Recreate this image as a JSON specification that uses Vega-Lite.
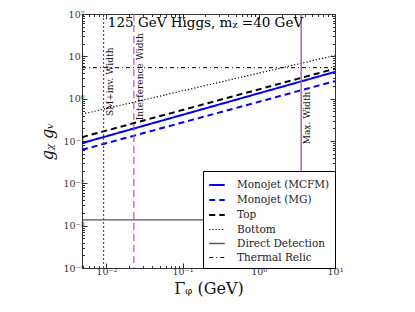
{
  "$schema": "https://vega.github.io/schema/vega-lite/v6.json",
  "width": 253,
  "height": 254,
  "autosize": "none",
  "padding": {"left": 82, "top": 14, "right": 80, "bottom": 44},
  "background": "white",
  "config": {
    "view": {"stroke": "#333", "strokeWidth": 1},
    "font": "DejaVu Serif",
    "axis": {"grid": false, "domain": false},
    "legend": {
      "labelFont": "DejaVu Serif",
      "labelFontSize": 10.5,
      "labelColor": "#222",
      "symbolStrokeWidth": 1.8
    }
  },
  "datasets": {
    "curves": [
      {"series": "Monojet (MCFM)", "width": 0.0048, "g": 0.089},
      {"series": "Monojet (MCFM)", "width": 10, "g": 4.3},
      {"series": "Monojet (MG)", "width": 0.0048, "g": 0.062},
      {"series": "Monojet (MG)", "width": 10, "g": 2.6},
      {"series": "Top", "width": 0.0048, "g": 0.123},
      {"series": "Top", "width": 10, "g": 5.1},
      {"series": "Bottom", "width": 0.0048, "g": 0.43},
      {"series": "Bottom", "width": 10, "g": 10.5},
      {"series": "Direct Detection", "width": 0.0048, "g": 0.00137},
      {"series": "Direct Detection", "width": 10, "g": 0.00137},
      {"series": "Thermal Relic", "width": 0.0048, "g": 5.4},
      {"series": "Thermal Relic", "width": 10, "g": 5.4}
    ],
    "vlines": [
      {"name": "SM+inv. Width", "width": 0.0092, "ytext": 2.5},
      {"name": "Interference Width", "width": 0.023, "ytext": 3.3},
      {"name": "Max. Width", "width": 3.6, "ytext": 0.35}
    ],
    "title": [
      {"width": 0.2, "g": 60, "text": "125 GeV Higgs, mᵪ =40 GeV"}
    ]
  },
  "resolve": {"axis": {"x": "independent", "y": "independent"}},
  "layer": [
    {
      "data": {"name": "curves"},
      "mark": {"type": "line", "clip": true},
      "encoding": {
        "x": {
          "field": "width", "type": "quantitative",
          "scale": {"type": "log", "domain": [0.0048, 10], "nice": false},
          "title": "Γᵩ  (GeV)",
          "axis": {
            "orient": "bottom",
            "values": [0.005,0.006,0.007,0.008,0.009,0.01,0.02,0.03,0.04,0.05,0.06,0.07,0.08,0.09,0.1,0.2,0.3,0.4,0.5,0.6,0.7,0.8,0.9,1,2,3,4,5,6,7,8,9,10],
            "labelExpr": "abs(log(datum.value)/LN10 - round(log(datum.value)/LN10)) < 0.001 ? '10' + (round(log(datum.value)/LN10) < 0 ? '⁻' : '') + ['⁰','¹','²','³','⁴','⁵'][abs(round(log(datum.value)/LN10))] : ''",
            "tickSize": {"condition": {"test": "abs(log(datum.value)/LN10 - round(log(datum.value)/LN10)) < 0.001", "value": -5}, "value": -2.5},
            "tickColor": "#333",
            "labelFont": "DejaVu Serif",
            "labelFontSize": 9.5,
            "labelColor": "#333",
            "labelPadding": 3,
            "labelFlush": false,
            "labelOverlap": false,
            "titleFont": "DejaVu Serif",
            "titleFontSize": 16,
            "titleFontWeight": "normal",
            "titleColor": "#111",
            "titlePadding": 2
          }
        },
        "y": {
          "field": "g", "type": "quantitative",
          "scale": {"type": "log", "domain": [0.0001, 100], "nice": false},
          "title": "gᵪ gᵥ",
          "axis": {
            "orient": "left",
            "values": [0.0001,0.0002,0.0003,0.0004,0.0005,0.0006,0.0007,0.0008,0.0009,0.001,0.002,0.003,0.004,0.005,0.006,0.007,0.008,0.009,0.01,0.02,0.03,0.04,0.05,0.06,0.07,0.08,0.09,0.1,0.2,0.3,0.4,0.5,0.6,0.7,0.8,0.9,1,2,3,4,5,6,7,8,9,10,20,30,40,50,60,70,80,90,100],
            "labelExpr": "abs(log(datum.value)/LN10 - round(log(datum.value)/LN10)) < 0.001 ? '10' + (round(log(datum.value)/LN10) < 0 ? '⁻' : '') + ['⁰','¹','²','³','⁴','⁵'][abs(round(log(datum.value)/LN10))] : ''",
            "tickSize": {"condition": {"test": "abs(log(datum.value)/LN10 - round(log(datum.value)/LN10)) < 0.001", "value": -5}, "value": -2.5},
            "tickColor": "#333",
            "labelFont": "DejaVu Serif",
            "labelFontSize": 9.5,
            "labelColor": "#333",
            "labelPadding": 3,
            "labelFlush": false,
            "labelOverlap": false,
            "titleFont": "DejaVu Serif",
            "titleFontSize": 16,
            "titleFontStyle": "italic",
            "titleFontWeight": "normal",
            "titleColor": "#111",
            "titlePadding": 8
          }
        },
        "color": {
          "field": "series", "type": "nominal",
          "scale": {
            "domain": ["Monojet (MCFM)", "Monojet (MG)", "Top", "Bottom", "Direct Detection", "Thermal Relic"],
            "range": ["#0000ff", "#0000ff", "#000000", "#000000", "#555555", "#000000"]
          },
          "legend": {
            "title": null,
            "orient": "none",
            "legendX": 121,
            "legendY": 157,
            "symbolType": "stroke",
            "symbolSize": 240,
            "labelFont": "DejaVu Serif",
            "labelFontSize": 10.5,
            "labelOffset": 11,
            "strokeColor": "#000",
            "fillColor": "white",
            "padding": 5,
            "rowPadding": 0
          }
        },
        "strokeDash": {
          "field": "series", "type": "nominal",
          "scale": {
            "domain": ["Monojet (MCFM)", "Monojet (MG)", "Top", "Bottom", "Direct Detection", "Thermal Relic"],
            "range": [[1, 0], [6, 4], [6, 4], [1.2, 2], [1, 0], [4, 3, 1, 3]]
          }
        },
        "strokeWidth": {
          "field": "series", "type": "nominal",
          "scale": {
            "type": "ordinal",
            "domain": ["Monojet (MCFM)", "Monojet (MG)", "Top", "Bottom", "Direct Detection", "Thermal Relic"],
            "range": [2, 2, 2, 1.2, 1.3, 1]
          }
        }
      }
    },
    {
      "data": {"name": "curves"},
      "mark": {"type": "point", "opacity": 0},
      "encoding": {
        "x": {
          "field": "width", "type": "quantitative",
          "axis": {
            "orient": "top",
            "values": [0.005,0.006,0.007,0.008,0.009,0.01,0.02,0.03,0.04,0.05,0.06,0.07,0.08,0.09,0.1,0.2,0.3,0.4,0.5,0.6,0.7,0.8,0.9,1,2,3,4,5,6,7,8,9,10],
            "labels": false,
            "title": null,
            "tickSize": {"condition": {"test": "abs(log(datum.value)/LN10 - round(log(datum.value)/LN10)) < 0.001", "value": -5}, "value": -2.5},
            "tickColor": "#333"
          }
        },
        "y": {
          "field": "g", "type": "quantitative",
          "axis": {
            "orient": "right",
            "values": [0.0001,0.0002,0.0003,0.0004,0.0005,0.0006,0.0007,0.0008,0.0009,0.001,0.002,0.003,0.004,0.005,0.006,0.007,0.008,0.009,0.01,0.02,0.03,0.04,0.05,0.06,0.07,0.08,0.09,0.1,0.2,0.3,0.4,0.5,0.6,0.7,0.8,0.9,1,2,3,4,5,6,7,8,9,10,20,30,40,50,60,70,80,90,100],
            "labels": false,
            "title": null,
            "tickSize": {"condition": {"test": "abs(log(datum.value)/LN10 - round(log(datum.value)/LN10)) < 0.001", "value": -5}, "value": -2.5},
            "tickColor": "#333"
          }
        }
      }
    },
    {
      "data": {"name": "vlines"},
      "transform": [{"filter": "datum.name === 'SM+inv. Width'"}],
      "mark": {"type": "rule", "color": "#9a1f9a", "strokeDash": [2, 2], "strokeWidth": 1.2},
      "encoding": {"x": {"field": "width", "type": "quantitative", "axis": null}}
    },
    {
      "data": {"name": "vlines"},
      "transform": [{"filter": "datum.name === 'Interference Width'"}],
      "mark": {"type": "rule", "color": "#c050c0", "strokeDash": [7, 4], "strokeWidth": 1.2},
      "encoding": {"x": {"field": "width", "type": "quantitative", "axis": null}}
    },
    {
      "data": {"name": "vlines"},
      "transform": [{"filter": "datum.name === 'Max. Width'"}],
      "mark": {"type": "rule", "color": "#b460b4", "strokeWidth": 1.5},
      "encoding": {"x": {"field": "width", "type": "quantitative", "axis": null}}
    },
    {
      "data": {"name": "vlines"},
      "mark": {"type": "text", "angle": 270, "align": "center", "baseline": "top", "dy": 2, "fontSize": 9, "font": "DejaVu Serif", "color": "#111"},
      "encoding": {
        "x": {"field": "width", "type": "quantitative", "axis": null},
        "y": {"field": "ytext", "type": "quantitative", "axis": null},
        "text": {"field": "name"}
      }
    },
    {
      "data": {"name": "title"},
      "mark": {"type": "text", "align": "center", "baseline": "middle", "fontSize": 13.5, "font": "DejaVu Serif", "color": "#000"},
      "encoding": {
        "x": {"field": "width", "type": "quantitative", "axis": null},
        "y": {"field": "g", "type": "quantitative", "axis": null},
        "text": {"field": "text"}
      }
    }
  ]
}
